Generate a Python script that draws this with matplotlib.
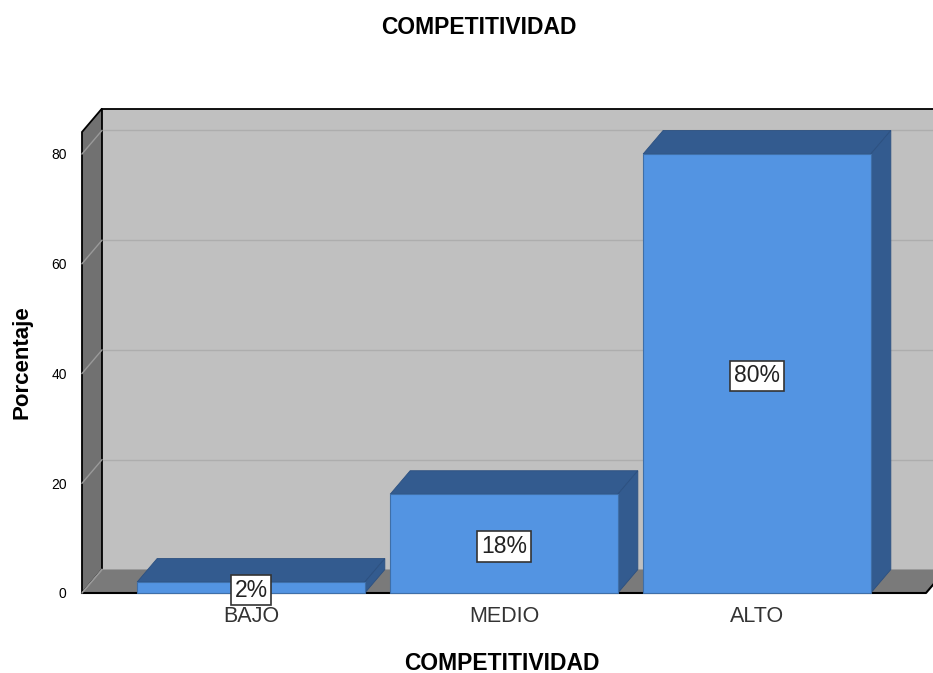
import matplotlib.pyplot as plt
from matplotlib.patches import Polygon, Rectangle

plt.rcParams["font.family"] = ["Liberation Sans", "DejaVu Sans"]

# data
categories = ["BAJO", "MEDIO", "ALTO"]
percent = [2, 18, 80]
yticks = [0, 20, 40, 60, 80]
title = "COMPETITIVIDAD"

# 3d look
bar_w = 0.9
dx, dy = 0.079, 4.28
xl, xr = -0.668, 2.668
ytop = 84

front = "#5394e2"
dark = "#335b8f"

fig = plt.figure(figsize=(9.33, 6.73), dpi=100)
ax = fig.add_axes([82 / 933, 80 / 673, 844 / 933, 461 / 673])
ax.set_xlim(xl, xr)
ax.set_ylim(0, ytop)
ax.set_facecolor("none")
for s in ax.spines.values():
    s.set_visible(False)

# back wall
ax.add_patch(Rectangle((xl + dx, dy), xr - xl, ytop, facecolor="#c0c0c0",
                       edgecolor="none", clip_on=False, zorder=0))
ax.plot([xl + dx, xr + dx], [ytop + dy, ytop + dy], color="black", lw=1.3,
        clip_on=False, zorder=1)
for v in yticks:
    ax.plot([xl + dx, xr + dx], [v + dy, v + dy], color="#adadad", lw=1,
            clip_on=False, zorder=1)

# left wall
ax.add_patch(Polygon([(xl, 0), (xl, ytop), (xl + dx, ytop + dy), (xl + dx, dy)],
                     closed=True, facecolor="#717171", edgecolor="black", lw=1.3,
                     clip_on=False, zorder=2))
for v in yticks:
    ax.plot([xl, xl + dx], [v, v + dy], color="#9a9a9a", lw=1,
            clip_on=False, zorder=3)

# floor
ax.add_patch(Polygon([(xl + dx * 0.02, 0), (xr, 0), (xr + dx, dy), (xl + dx, dy)],
                     closed=True, facecolor="#7a7a7a", edgecolor="none",
                     clip_on=False, zorder=2))
ax.plot([xl, xr, xr + dx], [0, 0, dy], color="black", lw=1.5,
        clip_on=False, zorder=3)
ax.plot([xl, xl + dx], [0, dy], color="#9a9a9a", lw=1, clip_on=False, zorder=3)

# bars
for i, v in enumerate(percent):
    x0, x1 = i - bar_w / 2, i + bar_w / 2
    ax.add_patch(Polygon([(x0, v), (x1, v), (x1 + dx, v + dy), (x0 + dx, v + dy)],
                         closed=True, facecolor=dark, edgecolor="#2c5080", lw=0.6,
                         clip_on=False, zorder=4))
    ax.add_patch(Polygon([(x1, 0), (x1, v), (x1 + dx, v + dy), (x1 + dx, dy)],
                         closed=True, facecolor=dark, edgecolor="#2c5080", lw=0.6,
                         clip_on=False, zorder=4))
    ax.add_patch(Rectangle((x0, 0), bar_w, v, facecolor=front, edgecolor="#3f6fa8",
                           lw=0.8, clip_on=False, zorder=5))
    ax.text(i, v / 2, f"{v}%", ha="center", va="center_baseline", fontsize=16.5,
            color="#222222", zorder=7,
            bbox=dict(boxstyle="square,pad=0.17", facecolor="white",
                      edgecolor="#333333", lw=1.2))

ax.set_xticks(range(len(categories)))
ax.set_xticklabels(categories, fontsize=15.5, color="#333333")
ax.set_yticks(yticks)
ax.set_yticklabels([str(t) for t in yticks], fontsize=10, color="black")
ax.tick_params(axis="x", length=0, pad=9)
ax.tick_params(axis="y", length=0, pad=11)

fig.text(479 / 933, 1 - 27 / 673, title, ha="center", va="center",
         fontsize=16.5, fontweight="bold")
fig.text(502 / 933, 1 - 663 / 673, title, ha="center", va="center",
         fontsize=16.5, fontweight="bold")
fig.text(22 / 933, 1 - 362 / 673, "Porcentaje", ha="center", va="center",
         rotation=90, fontsize=16, fontweight="bold")

fig.savefig("out.png", dpi=100)
